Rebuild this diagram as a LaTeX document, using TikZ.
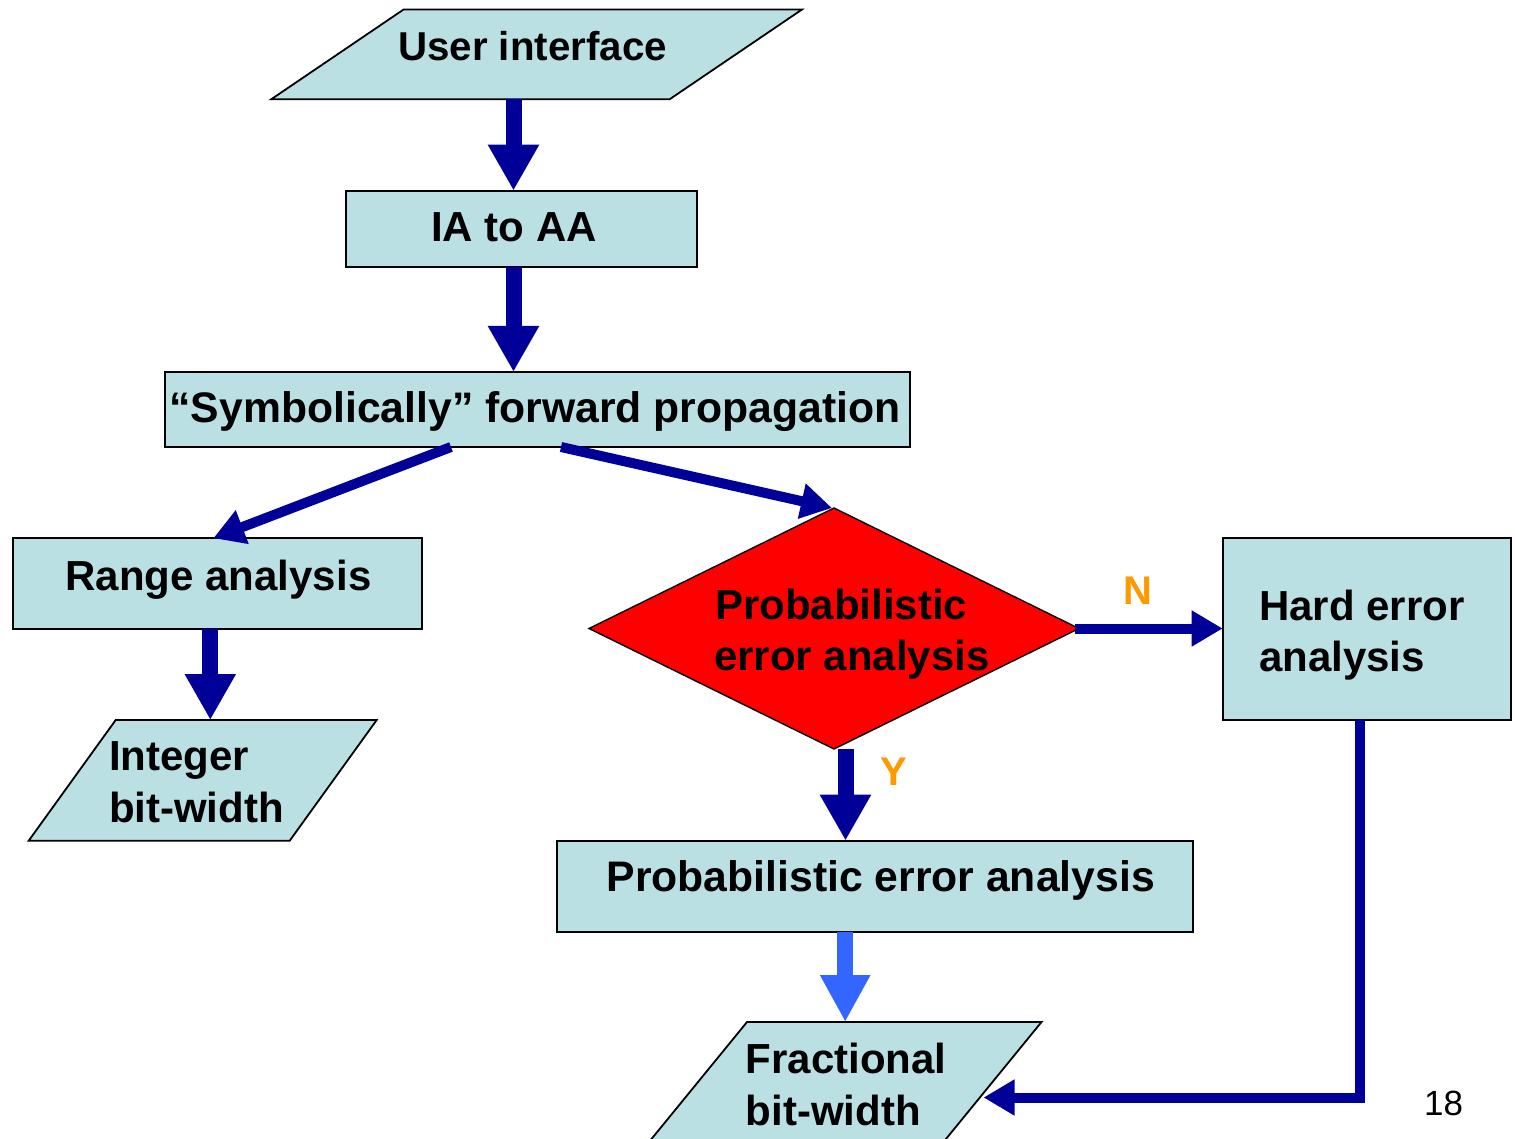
\documentclass[tikz,border=0pt]{standalone}
\usepackage{fontspec}
\setmainfont{Liberation Sans}
\usetikzlibrary{arrows.meta,shapes.geometric,calc}
\definecolor{boxblue}{RGB}{187,224,227}
\definecolor{navyarrow}{RGB}{0,0,153}
\definecolor{lightarrow}{RGB}{51,102,255}
\definecolor{labelorange}{RGB}{255,153,0}
\definecolor{diamondred}{RGB}{255,0,0}
\begin{document}
\begin{tikzpicture}[x=1pt,y=-1pt,
  box/.style={draw=black,line width=1.8pt,fill=boxblue,inner sep=0pt,outer sep=0pt},
  ghost/.style={inner sep=0pt,outer sep=0pt},
  lbl/.style={font=\bfseries\fontsize{42}{50}\selectfont,inner sep=0pt,outer sep=0pt},
  lblw/.style={font=\bfseries\fontsize{42.7}{50}\selectfont,inner sep=0pt,outer sep=0pt},
  yn/.style={font=\bfseries\fontsize{40}{48}\selectfont,text=labelorange,inner sep=0pt,outer sep=0pt,anchor=base west},
  bigarrow/.style={draw=navyarrow,line width=16pt,-{Triangle[width=48pt,length=46pt]}},
  lightbig/.style={draw=lightarrow,line width=16pt,-{Triangle[width=47pt,length=47pt]}},
  thinarrow/.style={draw=navyarrow,line width=10pt,line join=miter,-{Triangle[width=34pt,length=31pt]}}
]
\useasboundingbox (0,0) rectangle (1515,1139);
\clip (0,0) rectangle (1515,1139);

% User interface (parallelogram)
\node[ghost,minimum width=398.4pt,minimum height=89.8pt] (ui) at (536.6,54.4) {};
\path[box] ([xshift=-66.2pt]ui.south west) -- ([xshift=66.2pt]ui.north west)
  -- ([xshift=66.2pt]ui.north east) -- ([xshift=-66.2pt]ui.south east) -- cycle;
\node[lbl,font=\bfseries\fontsize{40.3}{48}\selectfont,anchor=base] (uit) at (532.5,61) {User interface};

% IA to AA
\node[box,minimum width=351pt,minimum height=76pt] (ia) at (521.5,228.7) {};
\node[lbl,anchor=base] (iat) at (514,242) {IA to AA};

% Symbolically forward propagation
\node[box,minimum width=745pt,minimum height=75pt] (sym) at (537.5,409.5) {};
\node[lblw,anchor=base] (symt) at (535,422) {“Symbolically” forward propagation};

% Range analysis
\node[box,minimum width=409pt,minimum height=91pt] (range) at (217.3,583.7) {};
\node[lbl,anchor=base] (ranget) at (218.5,590) {Range analysis};

% Integer bit-width (parallelogram)
\node[ghost,minimum width=261pt,minimum height=120.7pt] (intw) at (202.7,780.35) {};
\path[box] ([xshift=-43.5pt]intw.south west) -- ([xshift=43.5pt]intw.north west)
  -- ([xshift=43.5pt]intw.north east) -- ([xshift=-43.5pt]intw.south east) -- cycle;
\node[lbl,anchor=base west] (intt1) at (109,770.7) {Integer};
\node[lbl,anchor=base west] (intt2) at (109,822.7) {bit-width};

% Decision diamond
\node[diamond,draw=black,line width=1.4pt,fill=diamondred,minimum width=490pt,minimum height=241pt,inner sep=0pt,outer sep=0pt] (dec) at (834,628.5) {};
\node[lbl,anchor=base west] (dect1) at (715,619.5) {Probabilistic};
\node[lbl,anchor=base west] (dect2) at (714,670) {error analysis};

% Hard error analysis
\node[box,minimum width=288pt,minimum height=182pt] (hard) at (1366.7,629.2) {};
\node[lbl,anchor=base west] (hardt1) at (1259,620.7) {Hard error};
\node[lbl,anchor=base west] (hardt2) at (1259,671.7) {analysis};

% Probabilistic error analysis (box)
\node[box,minimum width=636pt,minimum height=91pt] (pea) at (875.2,886.2) {};
\node[lblw,anchor=base] (peat) at (880.7,891.7) {Probabilistic error analysis};

% Fractional bit-width (parallelogram)
\node[ghost,minimum width=294.5pt,minimum height=120pt] (frac) at (845.25,1082) {};
\path[box] ([xshift=-49pt]frac.south west) -- ([xshift=49pt]frac.north west)
  -- ([xshift=49pt]frac.north east) -- ([xshift=-49pt]frac.south east) -- cycle;
\node[lbl,anchor=base west] (fract1) at (745.7,1073) {Fractional};
\node[lbl,anchor=base west] (fract2) at (745.7,1125) {bit-width};

% Labels
\node[yn] (nlab) at (1123,604) {N};
\node[yn] (ylab) at (880,785) {Y};
\node[font=\fontsize{35}{42}\selectfont,inner sep=0pt,anchor=base west] (pagenum) at (1424,1115) {18};

% Connectors
\coordinate (a1) at ([xshift=-8pt]ia.north);
\draw[bigarrow] (a1 |- ui.south) -- (a1);
\draw[bigarrow] (a1 |- ia.south) -- (a1 |- sym.north);
\draw[thinarrow] ([xshift=-86.5pt]sym.south) -- ([xshift=-4pt]range.north);
\draw[thinarrow] ([xshift=23.5pt]sym.south) -- ([xshift=-2pt]dec.north);
\coordinate (r1) at ([xshift=-7pt]range.south);
\draw[bigarrow] (r1) -- (r1 |- intw.north);
\draw[thinarrow] ([xshift=-4pt]dec.east) -- (dec.east -| hard.west);
\coordinate (y1) at ([xshift=11.5pt]dec.south);
\draw[bigarrow] (y1) -- (y1 |- pea.north);
\coordinate (p1) at ([xshift=-30pt]pea.south);
\draw[lightbig] (p1) -- (p1 |- frac.north);
\coordinate (h1) at ([xshift=-7pt]hard.south);
\coordinate (frin) at ([xshift=-9pt,yshift=-15.5pt]frac.east);
\draw[thinarrow] (h1) |- (frin);
\end{tikzpicture}
\end{document}
